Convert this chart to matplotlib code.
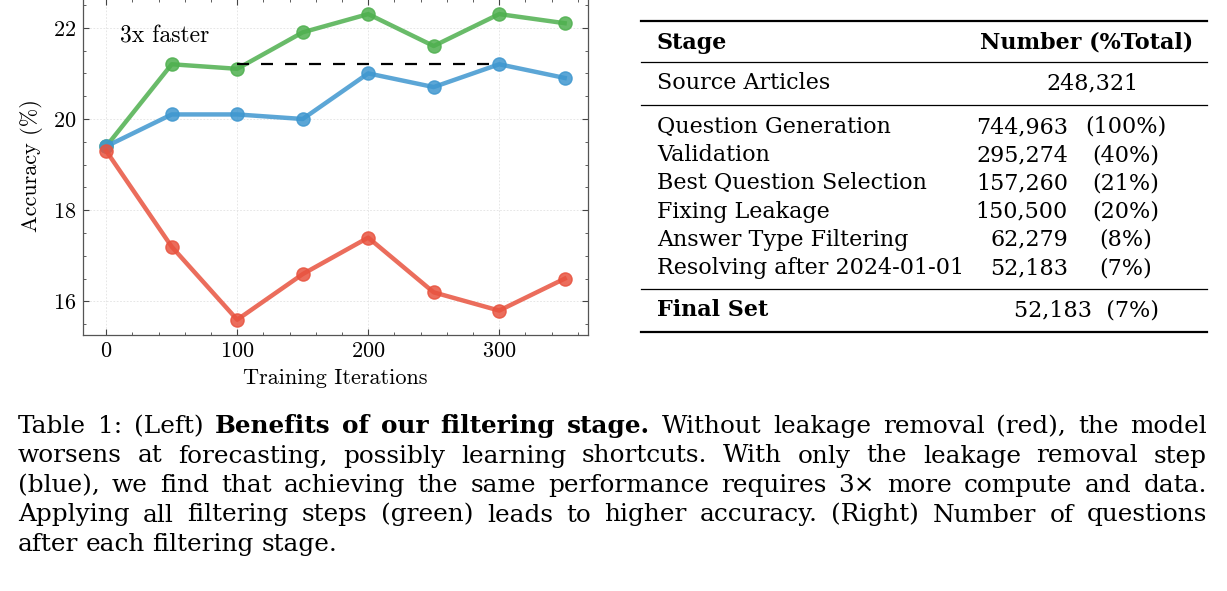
import matplotlib
matplotlib.use("Agg")
import matplotlib.pyplot as plt
from matplotlib.lines import Line2D
from matplotlib.ticker import MultipleLocator

W, H = 1227, 591

# accuracy curves
iters = [0, 50, 100, 150, 200, 250, 300, 350]
acc_all = [19.4, 21.2, 21.1, 21.9, 22.3, 21.6, 22.3, 22.1]      # all filtering (green)
acc_leak = [19.4, 20.1, 20.1, 20.0, 21.0, 20.7, 21.2, 20.9]     # leakage removal only (blue)
acc_none = [19.3, 17.2, 15.6, 16.6, 17.4, 16.2, 15.8, 16.5]     # no leakage removal (red)

# table
header = ["Stage", "Number (%Total)"]
source_label, source_count = "Source Articles", "248,321"
stages = ["Question Generation", "Validation", "Best Question Selection",
          "Fixing Leakage", "Answer Type Filtering", "Resolving after 2024-01-01"]
counts = ["744,963", "295,274", "157,260", "150,500", "62,279", "52,183"]
shares = ["(100%)", "(40%)", "(21%)", "(20%)", "(8%)", "(7%)"]
final_label, final_count = "Final Set", "52,183  (7%)"

caption_lines = [
    "Table 1: (Left) Benefits of our filtering stage. Without leakage removal (red), the model",
    "worsens at forecasting, possibly learning shortcuts.  With only the leakage removal step",
    "(blue), we find that achieving the same performance requires 3\u00d7 more compute and data.",
    "Applying all filtering steps (green) leads to higher accuracy. (Right) Number of questions",
    "after each filtering stage.",
]
bold_words = {"Benefits", "of", "our", "filtering", "stage."}

plt.rcParams["font.family"] = "serif"
plt.rcParams["font.serif"] = ["cmr10"]
plt.rcParams["mathtext.fontset"] = "cm"
plt.rcParams["axes.unicode_minus"] = False
plt.rcParams["axes.formatter.use_mathtext"] = True

SERIF = "DejaVu Serif"
PS = 16  # plot text size


def fx(x):
    return x / W


def fy(y):
    return 1 - y / H


fig = plt.figure(figsize=(W / 100, H / 100), dpi=100)

# ---- left: line plot
ax = fig.add_axes([fx(83.3), fy(335), 504.3 / W, 336.2 / H])
ax.plot(iters, acc_all, color="#4fb04f", lw=3.2, marker="o", ms=9.5, alpha=0.85, zorder=3)
ax.plot([iters[2], iters[6]], [acc_leak[6]] * 2, color="k", lw=1.6, dashes=(5.4, 5.4), zorder=4)
ax.plot(iters, acc_leak, color="#3f97cf", lw=3.2, marker="o", ms=9.5, alpha=0.85, zorder=5)
ax.plot(iters, acc_none, color="#e8533f", lw=3.2, marker="o", ms=9.5, alpha=0.85, zorder=6)
ax.text(10.5, 21.8, "3x faster", va="center", fontsize=17)

ax.xaxis.set_major_locator(MultipleLocator(100))
ax.xaxis.set_minor_locator(MultipleLocator(20))
ax.yaxis.set_major_locator(MultipleLocator(2))
ax.yaxis.set_minor_locator(MultipleLocator(0.5))
ax.tick_params(which="both", direction="in", top=True, right=True, color="#444444")
ax.tick_params(which="major", length=4, width=0.8, labelsize=PS, pad=5)
ax.tick_params(which="minor", length=2, width=0.6)
for s in ax.spines.values():
    s.set_color("#555555")
    s.set_linewidth(0.9)
ax.grid(True, which="major", color="#e2e2e2", lw=0.6, ls=(0, (2, 2)))
ax.set_axisbelow(True)
ax.set_xlabel("Training Iterations", fontsize=PS)
ax.set_ylabel("Accuracy (%)", fontsize=PS)
ax.xaxis.set_label_coords(0.5, -0.1)
ax.yaxis.set_label_coords(-0.08, 0.505)

# ---- right: table
TS = 16
rules = [(20.5, 1.6), (62, 0.9), (105, 0.9), (289, 0.9), (331.5, 1.6)]
for y, lw in rules:
    fig.add_artist(Line2D([fx(641), fx(1207)], [fy(y), fy(y)], color="k", lw=lw,
                          transform=fig.transFigure))

fig.text(fx(657), fy(49), header[0], fontsize=TS, family=SERIF, weight="bold", va="baseline")
fig.text(fx(1087), fy(49), header[1], fontsize=TS, family=SERIF, weight="bold",
         va="baseline", ha="center")
fig.text(fx(657), fy(89), source_label, fontsize=TS, family=SERIF, va="baseline")
fig.text(fx(1092), fy(89), source_count, fontsize=TS, family=SERIF, va="baseline", ha="center")
for i, (st, c, sh) in enumerate(zip(stages, counts, shares)):
    yb = 133 + i * 28.2
    fig.text(fx(657), fy(yb), st, fontsize=TS, family=SERIF, va="baseline")
    fig.text(fx(1068), fy(yb), c, fontsize=TS, family=SERIF, va="baseline", ha="right")
    fig.text(fx(1126), fy(yb), sh, fontsize=TS, family=SERIF, va="baseline", ha="center")
fig.text(fx(657), fy(316), final_label, fontsize=TS, family=SERIF, weight="bold", va="baseline")
fig.text(fx(1087), fy(316), final_count, fontsize=TS, family=SERIF, va="baseline", ha="center")

# ---- caption, justified
CS = 17.8
renderer = fig.canvas.get_renderer()
x0, x1 = 18, 1207
for li, line in enumerate(caption_lines):
    words = line.split()
    yb = 433 + li * 29.5
    objs = []
    for w in words:
        wt = "bold" if (li == 0 and w in bold_words) else "normal"
        objs.append(fig.text(0, fy(yb), w, fontsize=CS, family=SERIF, weight=wt, va="baseline"))
    widths = [t.get_window_extent(renderer).width for t in objs]
    if li < len(caption_lines) - 1:
        gap = (x1 - x0 - sum(widths)) / (len(words) - 1)
    else:
        gap = CS * 0.3 * 100 / 72
    x = x0
    for t, wd in zip(objs, widths):
        t.set_x(fx(x))
        x += wd + gap

fig.savefig("out.png", dpi=100)
